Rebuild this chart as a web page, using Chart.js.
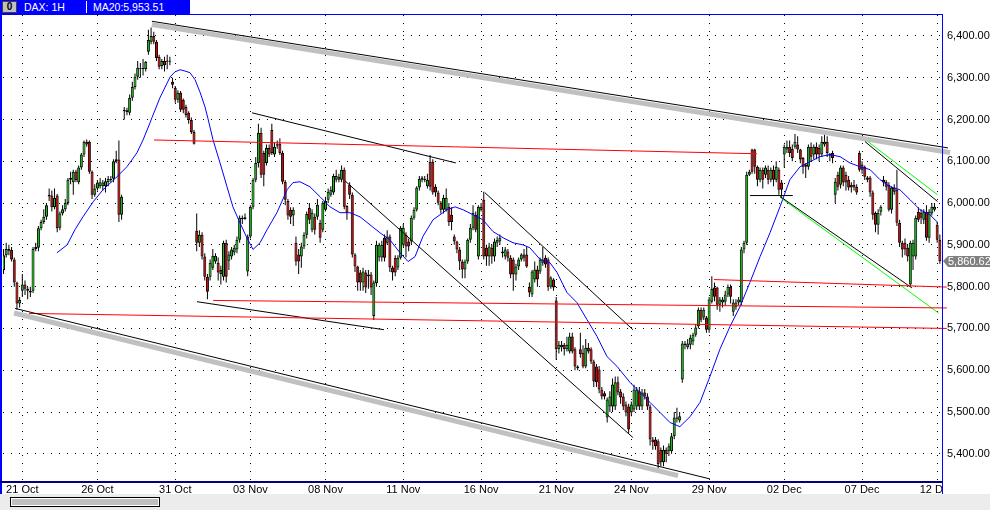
<!DOCTYPE html>
<html lang="en">
  <head>
    <meta charset="UTF-8" />
    <title>DAX: 1H</title>
    <script src="https://cdn.jsdelivr.net/npm/chart.js"></script>
    <style>
      body { margin: 0; background: #fff; }
      #wrap { position: relative; width: 990px; height: 510px; overflow: hidden; font-family: "Liberation Sans", Arial, sans-serif; }
      #daxChart { position: absolute; left: 0; top: 0; }
      .head { position: absolute; left: 0; top: 0; width: 190px; height: 14px; background: #0000ff; color: #fff; font-size: 10.5px; line-height: 14px; }
      .head .icon { position: absolute; left: 2px; top: 1px; width: 13px; height: 10px; background: #c0c0c0; border: 1px solid #404040; color: #000; font-weight: bold; font-size: 10px; line-height: 10px; text-align: center; }
      .head .sym { position: absolute; left: 24px; top: 0; }
      .head .sep { position: absolute; left: 86px; top: 1px; width: 1px; height: 12px; background: #fff; }
      .head .ma { position: absolute; left: 93px; top: 0; }
      .scroll { position: absolute; left: 0; top: 494px; width: 990px; height: 16px; background: #ececec; }
      .thumb { position: absolute; left: 10px; top: 3px; width: 148px; height: 8px; background: #c0c0c0; border: 1px solid #000; box-shadow: inset 0 0 0 1px #fff; }
    </style>
  </head>
  <body>
    <div id="wrap">
      <canvas id="daxChart" width="990" height="510"></canvas>
      <div class="head">
        <div class="icon">0</div>
        <span class="sym">DAX: 1H</span>
        <div class="sep"></div>
        <span class="ma">MA20:5,953.51</span>
      </div>
      <div class="scroll"><div class="thumb"></div></div>
    </div>

    <script>
      // hourly candles, one entry per bar
      const opens = [
        5840,5875,5890,5888,5865,5810,5760,5790,5805,5795,
        5790,5790,5890,5893,5940,5955,5967,6016,6018,5990,
        6018,5941,5975,5985,6000,6056,6050,6075,6050,6085,
        6116,6147,6147,6075,6020,6035,6040,6040,6040,6050,
        6055,6058,6100,6104,5972,6220,6222,6216,6252,6278,
        6302,6322,6320,6321,6362,6386,6400,6386,6350,6328,
        6340,6338,6340,6290,6276,6247,6264,6247,6230,6216,
        6199,6170,5934,5905,5924,5872,5824,5824,5845,5860,
        5857,5840,5824,5905,5862,5872,5882,5889,5912,5965,
        5962,5836,5920,5991,6056,6096,6168,6120,6096,6132,
        6175,6116,6141,6142,6120,6051,6005,5984,5970,5905,
        5877,5872,5896,5924,5989,5936,5967,5967,5953,5936,
        5984,6008,6020,6025,6056,6063,6056,6080,5993,6044,
        6020,5877,5848,5834,5810,5834,5825,5829,5730,5808,
        5870,5870,5917,5905,5920,5846,5869,5846,5869,5900,
        5924,5908,5908,5965,5984,6037,6056,6058,6040,6099,
        6099,6039,6025,6001,5984,5984,5991,5972,5920,5908,
        5889,5860,5841,5860,5912,5941,5972,5872,5984,6008,
        5893,5872,5893,5872,5905,5908,5880,5872,5884,5869,
        5865,5829,5848,5865,5877,5877,5800,5781,5817,5841,
        5836,5857,5869,5865,5800,5817,5767,5650,5655,5661,
        5650,5645,5681,5650,5609,5650,5642,5609,5654,5650,
        5621,5609,5602,5554,5545,5487,5513,5513,5513,5571,
        5549,5537,5518,5513,5499,5506,5513,5550,5513,5547,
        5537,5513,5434,5434,5430,5410,5380,5410,5406,5406,
        5442,5487,5480,5578,5660,5655,5661,5669,5685,5705,
        5745,5726,5726,5697,5764,5798,5798,5757,5762,5764,
        5781,5800,5740,5752,5762,5762,5889,5905,6068,6128,
        6128,6087,6056,6080,6068,6080,6056,6080,6056,6080,
        6049,6116,6128,6135,6130,6135,6140,6128,6108,6092,
        6087,6135,6116,6135,6132,6116,6140,6147,6118,6120,
        6020,6068,6044,6085,6068,6056,6044,6044,6039,6120,
        6092,6087,6061,6061,6025,5977,5948,5979,6056,6051,
        6044,5984,6037,6032,5953,5905,5905,5893,5805,5872,
        5872,5979,5977,5960,5979,5917,5975,5984,5948,5912
      ];
      const highs = [
        5890,5905,5900,5895,5870,5812,5775,5830,5815,5800,
        5800,5895,5905,5945,5960,5985,6000,6035,6030,6035,
        6022,5980,5995,6010,6060,6075,6080,6080,6090,6120,
        6150,6152,6150,6078,6045,6055,6060,6055,6060,6065,
        6065,6105,6125,6150,6020,6230,6228,6260,6290,6310,
        6340,6335,6345,6340,6415,6420,6410,6390,6355,6345,
        6350,6355,6350,6300,6280,6270,6268,6250,6235,6220,
        6205,6175,5975,5935,5930,5880,5830,5865,5890,5880,
        5870,5850,5910,5912,5885,5895,5900,5920,5970,5970,
        5975,5925,5995,6060,6110,6190,6180,6125,6140,6140,
        6190,6145,6150,6155,6125,6055,6010,5990,5990,5920,
        5890,5905,5930,5980,6000,5985,5975,6010,5960,6005,
        6015,6035,6040,6070,6080,6070,6090,6085,5995,6050,
        6025,5880,5850,5840,5845,5840,5840,5835,5815,5910,
        5905,5910,5925,5935,5925,5850,5875,5875,5945,5950,
        5930,5915,5970,5990,6040,6065,6065,6065,6070,6115,
        6105,6045,6030,6005,6020,6035,6000,5990,5925,5910,
        5895,5865,5865,5915,5950,5995,5980,5995,6000,6027,
        5900,5905,5900,5915,5920,5925,5895,5895,5890,5875,
        5870,5855,5870,5880,5890,5895,5810,5840,5860,5850,
        5870,5895,5875,5870,5825,5820,5775,5670,5670,5665,
        5680,5690,5690,5655,5612,5690,5660,5675,5665,5655,
        5625,5615,5610,5560,5550,5535,5550,5580,5585,5585,
        5555,5545,5525,5520,5525,5565,5560,5560,5555,5555,
        5545,5518,5440,5440,5435,5415,5420,5415,5425,5450,
        5500,5510,5500,5670,5670,5675,5685,5690,5710,5750,
        5750,5750,5730,5775,5825,5810,5800,5775,5775,5790,
        5805,5805,5770,5770,5775,5895,5910,6075,6080,6130,
        6130,6090,6085,6085,6090,6090,6085,6090,6100,6085,
        6055,6140,6150,6150,6140,6165,6160,6130,6110,6095,
        6140,6145,6140,6145,6140,6160,6165,6160,6120,6125,
        6060,6075,6090,6090,6075,6065,6050,6055,6045,6125,
        6100,6090,6065,6065,6030,5980,5985,5995,6065,6055,
        6050,6040,6045,6080,5960,5910,5915,5900,5910,5912,
        5970,5990,5985,5985,5995,5985,6000,6000,5955,5925
      ];
      const lows = [
        5830,5870,5875,5860,5800,5745,5750,5775,5780,5770,
        5775,5785,5885,5885,5935,5950,5960,6005,5980,5985,
        5930,5935,5970,5980,5995,6045,6020,6050,6045,6080,
        6110,6135,6070,6010,6015,6030,6035,6030,6025,6040,
        6050,6050,6095,5955,5960,6200,6210,6210,6245,6272,
        6295,6300,6305,6315,6355,6380,6380,6340,6320,6320,
        6315,6320,6330,6275,6240,6240,6218,6215,6205,6190,
        6165,6140,5885,5895,5865,5815,5770,5815,5840,5855,
        5815,5805,5815,5810,5840,5865,5875,5880,5905,5950,
        5960,5825,5915,5985,6050,6085,6060,6040,6090,6110,
        6115,6110,6130,6115,6045,5995,5960,5950,5945,5850,
        5830,5845,5890,5915,5950,5930,5925,5960,5905,5930,
        5980,6000,6015,6020,6050,6050,6050,5985,5960,6010,
        5870,5835,5790,5790,5790,5785,5795,5780,5720,5800,
        5860,5860,5860,5900,5835,5815,5825,5840,5865,5895,
        5870,5885,5900,5960,5980,6030,6050,6050,6035,6030,
        6020,6015,5995,5975,5975,5980,5945,5935,5900,5880,
        5840,5820,5820,5855,5905,5935,5930,5865,5980,5865,
        5850,5850,5855,5860,5895,5900,5870,5865,5860,5820,
        5790,5815,5840,5860,5860,5845,5775,5775,5810,5800,
        5830,5850,5845,5790,5795,5790,5625,5640,5645,5635,
        5645,5640,5640,5600,5600,5630,5605,5605,5640,5615,
        5560,5560,5545,5530,5530,5475,5500,5500,5505,5540,
        5520,5505,5490,5450,5490,5500,5505,5505,5505,5530,
        5505,5420,5410,5410,5365,5370,5370,5380,5395,5400,
        5435,5475,5475,5570,5650,5650,5650,5660,5680,5700,
        5715,5720,5690,5690,5760,5765,5745,5740,5750,5755,
        5775,5760,5730,5745,5755,5755,5880,5900,6065,6070,
        6070,6040,6050,6035,6060,6045,6050,6040,6050,6020,
        6015,6085,6120,6110,6100,6130,6120,6095,6070,6060,
        6080,6100,6105,6105,6100,6110,6135,6110,6100,6095,
        6000,6030,6035,6040,6030,6030,6025,6030,6020,6075,
        6070,6055,6050,6015,5960,5930,5925,5970,6040,6030,
        5980,5975,6020,5945,5895,5870,5875,5860,5800,5840,
        5865,5955,5950,5950,5910,5905,5970,5980,5905,5855
      ];
      const closes = [
        5875,5890,5886,5865,5810,5760,5768,5805,5795,5790,
        5786,5890,5895,5940,5955,5967,5995,6020,5990,6012,
        5940,5975,5985,6000,6056,6060,6075,6055,6085,6116,
        6147,6140,6075,6020,6035,6049,6050,6049,6052,6058,
        6057,6100,6105,5972,6015,6223,6218,6252,6278,6302,
        6324,6320,6323,6338,6390,6400,6386,6347,6326,6340,
        6330,6341,6338,6283,6247,6264,6223,6223,6211,6199,
        6170,6142,5905,5924,5872,5824,5788,5857,5874,5874,
        5834,5830,5905,5824,5877,5889,5893,5912,5965,5962,
        5966,5920,5991,6056,6096,6168,6068,6068,6132,6116,
        6120,6135,6137,6120,6051,6008,5970,5967,5984,5860,
        5860,5896,5924,5974,5960,5977,5936,5996,5917,6001,
        6005,6027,6032,6065,6065,6056,6080,5991,5977,6020,
        5877,5848,5810,5810,5836,5798,5829,5798,5810,5900,
        5900,5900,5869,5920,5846,5834,5834,5869,5941,5941,
        5896,5896,5965,5984,6037,6058,6061,6055,6056,6039,
        6025,6025,6001,5984,6013,6013,5955,5955,5908,5889,
        5860,5841,5860,5912,5941,5977,5936,5991,5991,5872,
        5872,5896,5872,5908,5912,5917,5884,5889,5869,5829,
        5829,5848,5865,5877,5869,5848,5786,5836,5841,5817,
        5865,5865,5853,5800,5822,5798,5650,5661,5661,5650,
        5661,5681,5645,5609,5605,5638,5609,5654,5645,5621,
        5573,5571,5554,5537,5537,5530,5537,5566,5571,5547,
        5535,5513,5499,5458,5518,5554,5554,5513,5547,5537,
        5513,5434,5428,5418,5375,5380,5410,5400,5418,5442,
        5487,5484,5490,5664,5664,5664,5678,5685,5702,5745,
        5721,5745,5697,5769,5795,5776,5757,5769,5769,5781,
        5800,5776,5762,5762,5769,5889,5905,6068,6075,6075,
        6087,6056,6080,6056,6085,6056,6080,6056,6087,6032,
        6032,6135,6135,6120,6108,6147,6128,6104,6087,6087,
        6135,6111,6135,6116,6116,6147,6147,6120,6113,6108,
        6051,6039,6085,6049,6049,6037,6037,6037,6025,6080,
        6080,6063,6056,6025,5972,5948,5977,5991,6049,6039,
        5984,6037,6027,5953,5905,5889,5889,5872,5905,5905,
        5965,5960,5965,5979,5917,5979,5991,5991,5912,5860.62
      ];

      // 20-bar moving average (bar position, price)
      const maIdx = [
        19.9,23.7,26.6,29.6,33.4,37.1,41.5,46.0,49.7,52.0,54.6,55.3,58.3,62.1,63.9,65.8,67.6,69.5,71.4,73.2,
        75.1,76.2,78.1,80.7,83.3,85.5,88.1,90.7,93.0,95.6,98.2,101.9,105.7,107.9,110.5,114.2,118.0,121.7,125.4,129.1,
        132.9,136.6,140.3,144.0,147.8,150.8,153.4,156.3,160.1,165.3,168.3,171.3,175.0,178.7,182.4,186.2,189.9,193.6,196.2,200.0,
        203.7,206.3,210.0,213.7,217.5,221.2,224.9,228.7,233.5,237.2,241.0,244.7,248.4,252.1,255.9,259.6,263.3,267.0,270.8,274.5,
        278.2,282.0,285.7,289.4,293.1,296.9,300.6,304.3,308.0,311.8,315.5,319.2,323.0,326.7,330.4,334.1,337.9,341.6,345.3,348.3
      ];
      const maVal = [
        5881,5900,5936,5967,6003,6032,6058,6087,6120,6151,6192,6204,6252,6302,6314,6319,6316,6312,6295,6266,
        6230,6202,6151,6096,6039,5991,5953,5917,5889,5905,5936,5977,6032,6049,6051,6039,6015,5991,5977,5977,
        5967,5948,5929,5912,5881,5860,5872,5920,5960,5984,5991,5984,5972,5960,5932,5917,5905,5900,5893,5865,
        5857,5834,5786,5762,5721,5681,5633,5609,5571,5547,5523,5499,5475,5465,5489,5523,5585,5650,5705,5752,
        5810,5872,5929,5991,6056,6087,6099,6111,6116,6111,6096,6087,6080,6056,6039,6032,6008,5984,5972,5953
      ];

      // drawn trendlines: [bar position, price] at each end
      const upperEdge = [[55.3, 6435], [352.0, 6132]];
      const upperBand = [[55.3, 6427], [352.8, 6121]];
      const lowerEdge = [[4.3, 5748], [263.3, 5340]];
      const lowerBand = [[3.9, 5737], [251.4, 5348]];
      const redLevels = [
        [[56.1, 6151], [280.8, 6118]],
        [[9.5, 5736], [351.6, 5700]],
        [[78.1, 5767], [351.6, 5749]],
        [[264.8, 5817], [351.6, 5799]]
      ];
      const blackTrends = [
        [[92.6, 6216], [168.6, 6096]],
        [[72.1, 5764], [141.8, 5697]],
        [[127.3, 6053], [234.6, 5439]],
        [[179.4, 6025], [234.6, 5697]],
        [[278.2, 6018], [294.2, 6018]],
        [[289.4, 6016], [338.6, 5797]],
        [[321.1, 6147], [348.1, 6004]]
      ];
      const greenTrends = [
        [[322.2, 6147], [348.1, 6020]],
        [[289.4, 6014], [348.5, 5737]]
      ];

      const dateTicks = [7, 35, 64, 92, 120, 149, 178, 206, 234, 263, 291, 320, 348];
      const dateLabels = ["21 Oct", "26 Oct", "31 Oct", "03 Nov", "08 Nov", "11 Nov", "16 Nov",
        "21 Nov", "24 Nov", "29 Nov", "02 Dec", "07 Dec", "12 Dec"];
      const priceTicks = [5400, 5500, 5600, 5700, 5800, 5900, 6000, 6100, 6200, 6300, 6400];

      const UP = "#10d010";
      const DOWN = "#e80000";
      const FONT = { family: '"Liberation Sans", Arial, sans-serif', size: 11 };
      const fmt = (v) => v.toLocaleString("en-US", { minimumFractionDigits: 2, maximumFractionDigits: 2 });

      const toPts = (pairs) => pairs.map(([x, y]) => ({ x, y }));
      function line(pairs, color, width, order, clip) {
        return {
          type: "line",
          data: toPts(pairs),
          borderColor: color,
          borderWidth: width,
          pointRadius: 0,
          tension: 0,
          order: order,
          clip: clip,
        };
      }
      const overflow = { left: 0, top: 0, right: 10, bottom: 0 };

      const frame = {
        id: "frame",
        afterDraw(chart) {
          const ctx = chart.ctx;
          const { left, right, top, bottom } = chart.chartArea;
          ctx.save();
          // the last date label is cut at the plot edge
          ctx.fillStyle = "#fff";
          ctx.fillRect(right + 1, bottom + 1, chart.width - right, chart.height - bottom);
          ctx.fillStyle = "#0000ff";
          ctx.fillRect(0, top - 1, right + 1, 1);
          ctx.fillRect(0, top - 1, 2, chart.height - top - 15);
          ctx.fillRect(right, top - 1, 1, chart.height - top - 15);
          ctx.fillStyle = "#000080";
          ctx.fillRect(0, bottom, right + 1, 2);

          const last = closes[closes.length - 1];
          const py = Math.round(chart.scales.y.getPixelForValue(last));
          ctx.fillStyle = "#808080";
          ctx.beginPath();
          ctx.moveTo(right + 1, py);
          ctx.lineTo(right + 6, py - 5);
          ctx.lineTo(chart.width, py - 5);
          ctx.lineTo(chart.width, py + 6);
          ctx.lineTo(right + 6, py + 6);
          ctx.closePath();
          ctx.fill();
          ctx.fillStyle = "#fff";
          ctx.font = '11px "Liberation Sans", Arial, sans-serif';
          ctx.textBaseline = "middle";
          ctx.fillText(fmt(last), right + 6, py + 0.5);
          ctx.restore();
        },
      };

      const datasets = [
        {
          type: "bar",
          data: closes.map((c, i) => ({ x: i, y: [lows[i], highs[i]] })),
          grouped: false,
          barThickness: 1,
          backgroundColor: "#000",
          borderWidth: 0,
          inflateAmount: 0,
          order: 3,
        },
        {
          type: "bar",
          data: closes.map((c, i) => ({ x: i, y: [opens[i], c] })),
          grouped: false,
          barThickness: 3,
          minBarLength: 1,
          borderWidth: 1,
          borderColor: "#000",
          borderSkipped: false,
          inflateAmount: 0,
          backgroundColor: (ctx) => (closes[ctx.dataIndex] >= opens[ctx.dataIndex] ? UP : DOWN),
          order: 2,
        },
        line(upperBand, "#c0c0c0", 5, 1, overflow),
        line(lowerBand, "#c0c0c0", 5, 1, 0),
        line(upperEdge, "#000", 1, 0, overflow),
        line(lowerEdge, "#000", 1, 0, 0),
        ...redLevels.map((p) => line(p, "#ff0000", 1, 0, overflow)),
        ...blackTrends.map((p) => line(p, "#000", 1, 0, 0)),
        ...greenTrends.map((p) => line(p, "#00ff00", 1, 0, 0)),
        line(maIdx.map((x, i) => [x, maVal[i]]), "#0000ff", 1, 0, 0),
      ];

      new Chart(document.getElementById("daxChart"), {
        type: "bar",
        data: { datasets },
        plugins: [frame],
        options: {
          responsive: false,
          animation: false,
          devicePixelRatio: 1,
          layout: { padding: { top: 15, left: 3, right: 0, bottom: 16 } },
          plugins: { legend: { display: false }, tooltip: { enabled: false } },
          scales: {
            x: {
              type: "linear",
              min: -0.2,
              max: 349.8,
              offset: false,
              grid: { color: "#000", drawTicks: false, offset: false },
              border: { display: false, dash: [1, 7] },
              afterBuildTicks: (s) => { s.ticks = dateTicks.map((v) => ({ value: v })); },
              afterFit: (s) => { s.height = 13; },
              ticks: {
                padding: 2,
                color: "#000",
                font: FONT,
                maxRotation: 0,
                autoSkip: false,
                callback: (v, i) => dateLabels[i],
              },
            },
            y: {
              type: "linear",
              position: "right",
              min: 5335,
              max: 6450,
              beginAtZero: false,
              grid: { color: "#000", drawTicks: false },
              border: { display: false, dash: [1, 7] },
              afterBuildTicks: (s) => { s.ticks = priceTicks.map((v) => ({ value: v })); },
              afterFit: (s) => { s.width = 48; },
              ticks: { padding: 5, color: "#000", font: FONT, callback: (v) => fmt(v) },
            },
          },
        },
      });
    </script>
  </body>
</html>
